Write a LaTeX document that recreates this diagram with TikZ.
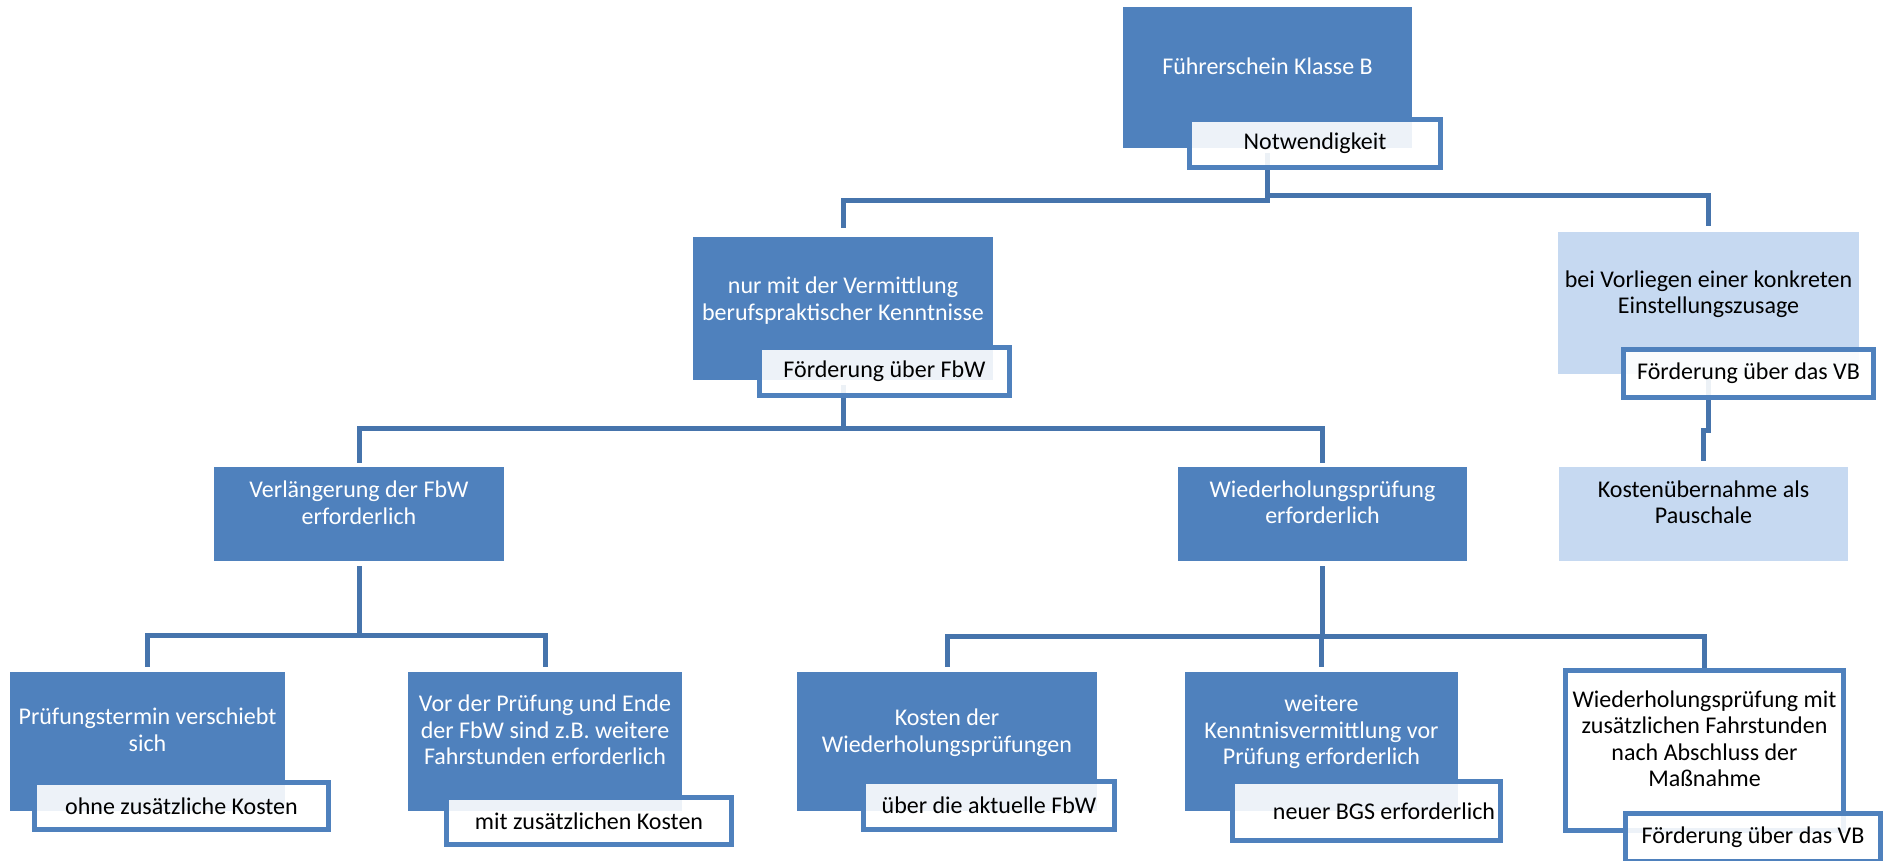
\documentclass[tikz,border=0pt]{standalone}
\usepackage{fontspec}
\setmainfont{Carlito}
\usetikzlibrary{backgrounds}

\begin{document}
\begin{tikzpicture}
		[x=1pt,y=-1pt,
		%Styles
		dark box/.style={rectangle,fill=boxblue,inner sep=0pt},
		pale box/.style={rectangle,fill=paleblue,inner sep=0pt},
		frame box/.style={rectangle,draw=lineblue,line width=5pt,fill=white,inner sep=0pt},
		tagbox/.style={rectangle,draw=lineblue,line width=5pt,fill=white,fill opacity=.9,text opacity=1,inner sep=0pt,font=\fontsize{24}{26.5}\selectfont},
		box text/.style={align=center,inner sep=0pt,font=\fontsize{24}{26.5}\selectfont},
		connector/.style={draw=connblue,line width=5pt,shorten <=5pt,shorten >=5pt},
		elbow/.style={to path={-- ++(0,#1) -| (\tikztotarget) \tikztonodes}}
		]
		
		%Colors
		\definecolor{boxblue}{HTML}{4F81BD}
		\definecolor{paleblue}{HTML}{C6D9F1}
		\definecolor{lineblue}{HTML}{4F81BD}
		\definecolor{connblue}{HTML}{4674AC}
		
		\useasboundingbox (0,0) rectangle (1885,861);
		
		%The graphic
		\node[dark box,minimum width=289pt,minimum height=141pt] (fuehrer) at (1267.5,77.5) {};
		\node[box text,text=white] (fuehrertxt) at (1267.5,66) {Führerschein Klasse B};
		\node[tagbox,minimum width=251pt,minimum height=48pt] (notw) at (1315,143.5) {Notwendigkeit};
		
		\node[dark box,minimum width=300pt,minimum height=143pt] (nur) at (843,308.5) {};
		\node[box text,text=white] (nurtxt) at (843,300.5) {nur mit der Vermittlung\\berufspraktischer Kenntnisse};
		\node[tagbox,minimum width=250pt,minimum height=48pt] (fbw) at (884.5,371.5) {Förderung über FbW};
		
		\node[pale box,minimum width=301pt,minimum height=142pt] (bei) at (1708.5,303) {};
		\node[box text] (beitxt) at (1708.5,294) {bei Vorliegen einer konkreten\\Einstellungszusage};
		\node[tagbox,minimum width=250pt,minimum height=48pt] (vbeins) at (1748.5,373.5) {Förderung über das VB};
		
		\node[pale box,minimum width=289pt,minimum height=94pt] (pausch) at (1703.5,514) {};
		\node[box text] (pauschtxt) at (1703.5,502.5) {Kostenübernahme als\\Pauschale};
		
		\node[dark box,minimum width=290pt,minimum height=94pt] (verl) at (359,514) {};
		\node[box text,text=white] (verltxt) at (359,502.5) {Verlängerung der FbW\\erforderlich};
		
		\node[dark box,minimum width=289pt,minimum height=94pt] (wdh) at (1322.5,514) {};
		\node[box text,text=white] (wdhtxt) at (1322.5,502) {Wiederholungsprüfung\\erforderlich};
		
		\node[dark box,minimum width=275pt,minimum height=139pt] (pruef) at (147.5,741.5) {};
		\node[box text,text=white] (prueftxt) at (147.5,730) {Prüfungstermin verschiebt\\sich};
		\node[tagbox,minimum width=294pt,minimum height=47pt] (ohne) at (181.5,806) {ohne zusätzliche Kosten};
		
		\node[dark box,minimum width=274pt,minimum height=139pt] (vor) at (545,741.5) {};
		\node[box text,text=white] (vortxt) at (545,730) {Vor der Prüfung und Ende\\der FbW sind z.B. weitere\\Fahrstunden erforderlich};
		\node[tagbox,minimum width=285pt,minimum height=47pt] (mit) at (589,821) {mit zusätzlichen Kosten};
		
		\node[dark box,minimum width=300pt,minimum height=139pt] (kosten) at (947,741.5) {};
		\node[box text,text=white] (kostentxt) at (947,732.5) {Kosten der\\Wiederholungsprüfungen};
		\node[tagbox,minimum width=251pt,minimum height=48pt] (ueber) at (989,805.5) {über die aktuelle FbW};
		
		\node[dark box,minimum width=273pt,minimum height=139pt] (weitere) at (1321.5,741.5) {};
		\node[box text,text=white] (weiteretxt) at (1321.5,732) {weitere\\Kenntnisvermittlung vor\\Prüfung erforderlich};
		\node[tagbox,minimum width=268pt,minimum height=59pt,text width=257pt,align=flush right,inner xsep=5.5pt] (bgs) at (1366.5,811) {neuer BGS erforderlich};
		
		\node[frame box,minimum width=278pt,minimum height=160pt] (wdhmit) at (1704.5,750.5) {};
		\node[box text] (wdhmittxt) at (1704.5,738.5) {Wiederholungsprüfung mit\\zusätzlichen Fahrstunden\\nach Abschluss der\\Maßnahme};
		\node[tagbox,minimum width=255pt,minimum height=48pt] (vbzwei) at (1753,837.5) {Förderung über das VB};
		
		\begin{scope}[on background layer]
		\path[connector]
			(fuehrer.south)	edge[elbow=52,shorten >=9pt]	(nur.north)
				edge[elbow=47,shorten >=6pt]	(bei.north)
			(nur.south)	edge[elbow=48,shorten >=4pt]	(verl.north)
				edge[elbow=48,shorten >=4pt]	(wdh.north)
			(bei.south)	edge[elbow=56,shorten >=6pt]	(pausch.north)
			(verl.south)	edge[elbow=74]	(pruef.north)
				edge[elbow=74]	(vor.north)
			(wdh.south)	edge[elbow=75]	(kosten.north)
				edge[elbow=75]	(weitere.north)
				edge[elbow=75,shorten >=0pt]	(wdhmit.north);
		\end{scope}
	\end{tikzpicture}
\end{document}
